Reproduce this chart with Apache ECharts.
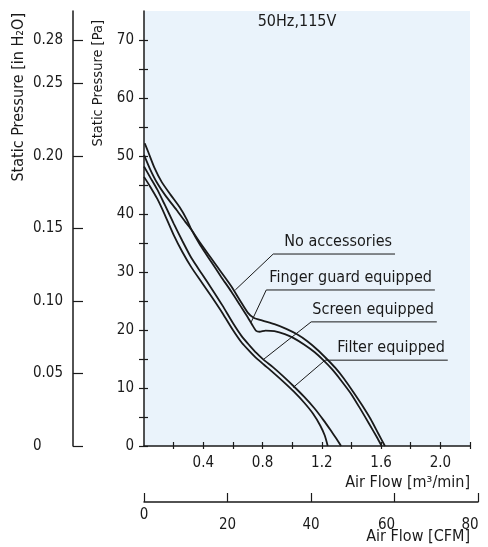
<!DOCTYPE html>
<html><head><meta charset="utf-8">
<script src="https://cdn.jsdelivr.net/npm/echarts@6/dist/echarts.min.js"></script>
<style>html,body{margin:0;padding:0;background:#fff}#c{width:488px;height:547px}</style>
</head><body><div id="c"></div>
<script>
// ---- data ----
const flowTickValues = [0.2,0.4,0.6,0.8,1.0,1.2,1.4,1.6,1.8,2.0,2.2];
const flowLabelValues = [0.4,0.8,1.2,1.6,2.0];
const paTickValues = [0,5,10,15,20,25,30,35,40,45,50,55,60,65,70];
const paLabelValues = [0,10,20,30,40,50,60,70];
const inH2OValues = [0,0.05,0.10,0.15,0.20,0.25,0.28];
const cfmValues = [0,20,40,60,80];

const noAccessories = [[0,50.2],[0.04,47.8],[0.09,45.3],[0.15,43.0],[0.22,40.7],[0.28,38.6],[0.32,37.3],[0.38,35.0],[0.45,32.5],[0.52,30.0],[0.59,27.5],[0.65,25.0],[0.7,23.0],[0.74,22.1],[0.8,21.6],[0.88,21.0],[0.96,20.2],[1.03,19.3],[1.1,18.1],[1.17,16.6],[1.234,15.0],[1.29,13.5],[1.35,11.6],[1.41,9.4],[1.47,7.1],[1.53,4.6],[1.58,2.2],[1.626,0]];
const fingerGuard = [[0.005,52.2],[0.03,50.6],[0.07,48.0],[0.12,45.5],[0.18,43.3],[0.24,41.2],[0.29,39.0],[0.32,37.3],[0.38,34.6],[0.45,31.9],[0.52,29.2],[0.59,26.6],[0.65,24.2],[0.7,22.2],[0.73,20.9],[0.755,19.9],[0.78,19.7],[0.82,19.9],[0.88,19.8],[0.95,19.3],[1.01,18.6],[1.08,17.5],[1.15,16.2],[1.21,14.8],[1.27,13.2],[1.33,11.3],[1.4,8.9],[1.46,6.4],[1.52,3.8],[1.57,1.6],[1.604,0]];
const screenEquipped = [[0,48.2],[0.04,46.4],[0.09,44.2],[0.14,41.6],[0.2,38.4],[0.26,35.3],[0.32,32.4],[0.39,29.7],[0.46,27.0],[0.53,24.2],[0.6,21.2],[0.66,18.9],[0.71,17.4],[0.76,16.0],[0.81,14.8],[0.87,13.6],[0.94,12.0],[1.01,10.3],[1.08,8.5],[1.15,6.5],[1.21,4.5],[1.26,2.7],[1.3,1.2],[1.33,0]];
const filterEquipped = [[0,46.4],[0.04,44.8],[0.09,42.6],[0.14,39.9],[0.2,36.4],[0.26,33.4],[0.32,30.8],[0.39,28.2],[0.46,25.6],[0.53,22.9],[0.6,20.0],[0.66,17.8],[0.71,16.4],[0.76,15.1],[0.81,14.0],[0.87,12.7],[0.94,11.1],[1.01,9.4],[1.08,7.5],[1.14,5.6],[1.19,3.5],[1.22,1.8],[1.24,0]];

// callouts: label, point on curve, elbow, end of underline (data units)
const calloutNames = ['No accessories','Finger guard equipped','Screen equipped','Filter equipped'];
const calloutPoints = [
  [[0.616,26.9],[0.872,33.1],[1.694,33.1]],
  [[0.724,21.4],[0.825,26.9],[1.963,26.9]],
  [[0.805,14.9],[1.128,21.4],[1.976,21.4]],
  [[1.007,10.1],[1.222,14.8],[2.05,14.8]]
];

const FONT = "'Liberation Sans Narrow','Arial Narrow','DejaVu Sans Condensed',sans-serif";
const INK = '#1a1a1a';

const curves = [noAccessories, fingerGuard, screenEquipped, filterEquipped].map(d => ({
  type:'line', xAxisIndex:0, yAxisIndex:0, data:d, showSymbol:false, smooth:0.2,
  lineStyle:{color:INK,width:1.8}, silent:true, animation:false, z:3
}));
const callouts = calloutPoints.map((pts,i) => ({
  type:'line', xAxisIndex:0, yAxisIndex:0, silent:true, animation:false, z:4,
  symbol:'circle', symbolSize:0.1, showSymbol:true, itemStyle:{color:'rgba(0,0,0,0)'},
  lineStyle:{color:INK,width:1},
  data: pts.map((p,j) => j===2 ? {value:p, label:{show:true, position:'top', align:'right', offset:[-3,1],
      formatter:calloutNames[i], fontFamily:FONT, fontSize:16, color:INK}} : {value:p})
}));

const chart = echarts.init(document.getElementById('c'), null, {renderer:'canvas'});
chart.setOption({
  animation:false,
  grid:[
    {left:144, top:11, width:326, height:435, show:true, backgroundColor:'#eaf3fb', borderWidth:0},
    {left:73, top:11, width:1, height:435},
    {left:144, top:501, width:334, height:1}
  ],
  xAxis:[
    {gridIndex:0, type:'value', min:0, max:2.2, position:'bottom',
     axisLine:{show:true, lineStyle:{color:INK,width:1.5}},
     axisTick:{show:true, inside:false, length:3, customValues:flowTickValues, lineStyle:{color:INK,width:1.2}},
     axisLabel:{customValues:flowLabelValues, margin:10, fontFamily:FONT, fontSize:15, color:INK,
       formatter:v=>v.toFixed(1)},
     splitLine:{show:false}},
    {gridIndex:0, type:'value', min:0, max:2.2, position:'bottom',
     axisLine:{show:false}, axisLabel:{show:false}, splitLine:{show:false},
     axisTick:{show:true, inside:true, length:4, customValues:flowTickValues, lineStyle:{color:INK,width:1.2}}},
    {gridIndex:1, type:'value', show:false, min:0, max:1},
    {gridIndex:2, type:'value', min:0, max:80, position:'bottom',
     axisLine:{show:true, lineStyle:{color:INK,width:1.5}},
     axisTick:{show:true, inside:true, length:9, customValues:cfmValues, lineStyle:{color:INK,width:1.2}},
     axisLabel:{customValues:cfmValues, margin:6, fontFamily:FONT, fontSize:15, color:INK,
       formatter:v => v===0 ? '{z|0}' : (v>=60 ? '{s|'+v+'}' : '{n|'+v+'}'),
       rich:{z:{fontFamily:FONT,fontSize:15,color:INK},
             n:{fontFamily:FONT,fontSize:15,color:INK,padding:[10,0,0,0]},
             s:{fontFamily:FONT,fontSize:15,color:INK,padding:[10,16,0,0]}}},
     splitLine:{show:false}}
  ],
  yAxis:[
    {gridIndex:0, type:'value', min:0, max:75, position:'left',
     axisLine:{show:true, lineStyle:{color:INK,width:1.5}},
     axisTick:{show:true, inside:false, length:5, customValues:paTickValues, lineStyle:{color:INK,width:1.2}},
     axisLabel:{customValues:paLabelValues, margin:10, fontFamily:FONT, fontSize:15, color:INK},
     splitLine:{show:false}},
    {gridIndex:0, type:'value', min:0, max:75, position:'left',
     axisLine:{show:false}, axisLabel:{show:false}, splitLine:{show:false},
     axisTick:{show:true, inside:true, length:4, customValues:paTickValues, lineStyle:{color:INK,width:1.2}}},
    {gridIndex:1, type:'value', min:0, max:0.3, position:'left',
     axisLine:{show:true, lineStyle:{color:INK,width:1.5}},
     axisTick:{show:true, inside:true, length:10, customValues:inH2OValues, lineStyle:{color:INK,width:1.2}},
     axisLabel:{customValues:inH2OValues, margin:40, align:'left', fontFamily:FONT, fontSize:15, color:INK,
       formatter:v => v===0 ? '0' : v.toFixed(2)},
     splitLine:{show:false}},
    {gridIndex:2, type:'value', show:false, min:0, max:1}
  ],
  graphic:[
    {type:'text', x:297, y:22, style:{text:'50Hz,115V', font:'16px '+FONT, fill:INK, textAlign:'center', textVerticalAlign:'middle'}},
    {type:'text', x:470, y:483, style:{text:'Air Flow [m³/min]', font:'16px '+FONT, fill:INK, textAlign:'right', textVerticalAlign:'middle'}},
    {type:'text', x:470, y:537, style:{text:'Air Flow [CFM]', font:'16px '+FONT, fill:INK, textAlign:'right', textVerticalAlign:'middle'}},
    {type:'text', x:98.5, y:20, rotation:Math.PI/2, style:{text:'Static Pressure [Pa]', font:'14.5px '+FONT, fill:INK, textAlign:'right', textVerticalAlign:'middle'}},
    {type:'text', x:19, y:13, rotation:Math.PI/2, style:{text:'Static Pressure [in H₂O]', font:'16px '+FONT, fill:INK, textAlign:'right', textVerticalAlign:'middle'}}
  ],
  series: curves.concat(callouts)
});
</script></body></html>
